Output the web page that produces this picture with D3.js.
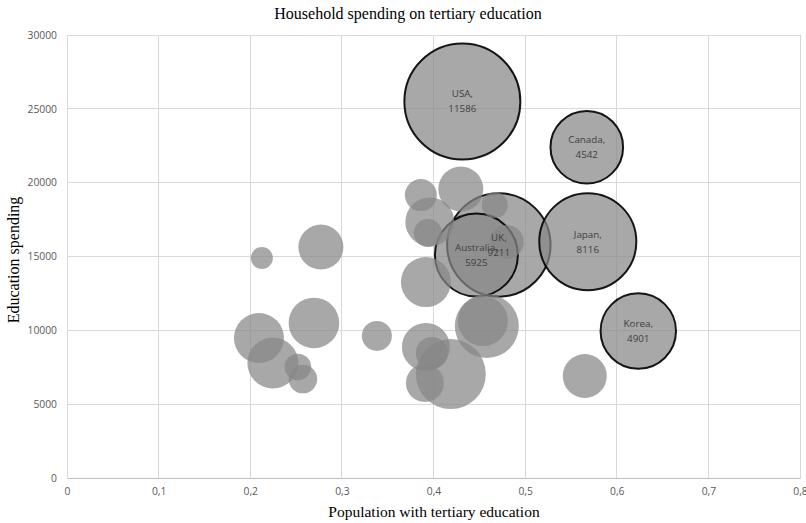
<!DOCTYPE html>
<html><head><meta charset="utf-8">
<script src="https://cdn.jsdelivr.net/npm/d3@7/dist/d3.min.js"></script>
<style>body{margin:0;background:#fff}</style>
</head><body><svg id="c" width="806" height="523"></svg>
<script>
// Labeled countries
const countryLabels   = ["USA", "Canada", "Japan", "UK", "Australia", "Korea"];
const labeledShare    = [0.4315, 0.5673, 0.5684, 0.4713, 0.4468, 0.6235];
const labeledSpending = [25500, 22400, 16000, 15780, 15100, 9950];
const labeledSize     = [11586, 4542, 8116, 9211, 5925, 4901];

// Unlabeled countries
const otherShare    = [0.2127, 0.2771, 0.2095, 0.2695, 0.2247, 0.2520, 0.2575, 0.3382, 0.3862, 0.4298, 0.3960,
                       0.3938, 0.4669, 0.4800, 0.3917, 0.4582, 0.4539, 0.3917, 0.3982, 0.4189, 0.3906, 0.5651];
const otherSpending = [14900, 15640, 9480, 10500, 7790, 7520, 6700, 9620, 19160, 19570, 17340,
                       16590, 18490, 15980, 13270, 10290, 10630, 8870, 8470, 7040, 6430, 6910];
const otherSize     = [417, 1744, 2153, 2205, 2240, 609, 704, 775, 882, 1744, 2068,
                       675, 582, 996, 2153, 3528, 2153, 1984, 882, 4220, 1244, 1667];

const xTicks = [0, 0.1, 0.2, 0.3, 0.4, 0.5, 0.6, 0.7, 0.8];
const yTicks = [0, 5000, 10000, 15000, 20000, 25000, 30000];

const titleText = "Household spending on tertiary education";
const xTitle = "Population with tertiary education";
const yTitle = "Education spending";

const svg = d3.select("#c");
const L = 67, R = 800, T = 35, B = 478;
const x = d3.scaleLinear().domain([0, 0.8]).range([L, R]);
const y = d3.scaleLinear().domain([0, 30000]).range([B, T]);
const r = d3.scaleSqrt().domain([0, 11586]).range([0, 58]);

svg.append("rect").attr("width", 806).attr("height", 523).attr("fill", "#fff");

// grid
const grid = svg.append("g");
grid.selectAll("line.h").data(yTicks.filter(d => d > 0)).join("line")
  .attr("x1", L).attr("x2", R).attr("y1", d => y(d)).attr("y2", d => y(d))
  .attr("stroke", "#d9d9d9").attr("stroke-width", 1).attr("shape-rendering", "crispEdges");
grid.selectAll("line.v").data(xTicks.filter(d => d > 0)).join("line")
  .attr("x1", d => x(d)).attr("x2", d => x(d)).attr("y1", T).attr("y2", B)
  .attr("stroke", "#d9d9d9").attr("stroke-width", 1).attr("shape-rendering", "crispEdges");

// axes
const fmtX = d => d === 0 ? "0" : d3.format(".1f")(d).replace(".", ",");
const xAxis = svg.append("g").attr("transform", `translate(0,${B})`)
  .call(d3.axisBottom(x).tickValues(xTicks).tickFormat(fmtX).tickSize(0).tickPadding(10));
const yAxis = svg.append("g").attr("transform", `translate(${L},0)`)
  .call(d3.axisLeft(y).tickValues(yTicks).tickFormat(d3.format("d")).tickSize(0).tickPadding(10));
xAxis.select(".domain").attr("stroke", "#bfbfbf");
yAxis.select(".domain").attr("stroke", "#d9d9d9");
svg.selectAll(".tick text").attr("fill", "#595959")
  .style("font-family", "'Open Sans', sans-serif").style("font-size", "10.3px");

// bubbles
const others = otherShare.map((s, i) => ({ share: s, spend: otherSpending[i], size: otherSize[i], label: null }));
const labeled = countryLabels.map((c, i) => ({ share: labeledShare[i], spend: labeledSpending[i], size: labeledSize[i], label: c }));
const all = labeled.concat(others).sort((a, b) => b.size - a.size);

svg.append("g").selectAll("circle").data(all).join("circle")
  .attr("cx", d => x(d.share)).attr("cy", d => y(d.spend)).attr("r", d => r(d.size))
  .attr("fill", "#868686").attr("fill-opacity", 0.72)
  .attr("stroke", d => d.label ? "#000" : "none").attr("stroke-width", 2).attr("stroke-opacity", 0.9);

// labels
const lbl = svg.append("g").selectAll("text").data(labeled).join("text")
  .attr("text-anchor", "middle").attr("fill", "#404040")
  .style("font-family", "'Open Sans', sans-serif").style("font-size", "9.8px");
lbl.append("tspan").attr("x", d => x(d.share)).attr("y", d => y(d.spend) - 4).text(d => d.label + ",");
lbl.append("tspan").attr("x", d => x(d.share)).attr("y", d => y(d.spend) + 11).text(d => d.size);

// titles
svg.append("text").attr("x", 408).attr("y", 19).attr("text-anchor", "middle")
  .style("font-family", "'Liberation Serif', serif").style("font-size", "16px").attr("fill", "#000").text(titleText);
svg.append("text").attr("x", 434).attr("y", 517).attr("text-anchor", "middle")
  .style("font-family", "'Liberation Serif', serif").style("font-size", "15.5px").attr("fill", "#000").text(xTitle);
svg.append("text").attr("transform", "translate(19,260) rotate(-90)").attr("text-anchor", "middle")
  .style("font-family", "'Liberation Serif', serif").style("font-size", "16px").attr("fill", "#000").text(yTitle);
</script></body></html>
